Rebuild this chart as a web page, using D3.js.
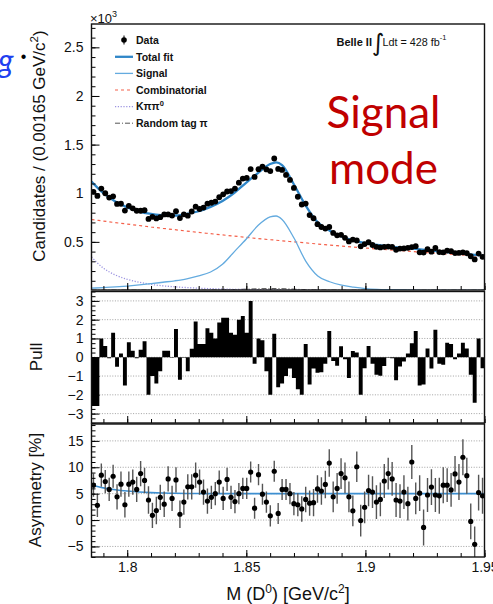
<!DOCTYPE html>
<html><head><meta charset="utf-8">
<script src="https://cdn.jsdelivr.net/npm/d3@7"></script>
<style>
html,body{margin:0;padding:0;background:#fff;overflow:hidden;}
svg{display:block;}
</style></head><body>
<script>
// ---- binning of the D0 invariant mass (GeV/c^2) ----
const binLo = 1.785, binHi = 1.95;

// candidates per bin, in units of 10^3
const candidates = [
  1.015,0.972,1.048,1.000,0.955,0.968,0.890,0.892,0.822,0.870,
  0.845,0.820,0.820,0.825,0.736,0.757,0.741,0.754,0.782,0.782,
  0.770,0.815,0.745,0.783,0.769,0.812,0.862,0.838,0.853,0.893,
  0.902,0.914,0.959,0.989,1.018,1.022,1.048,1.109,1.151,1.157,
  1.248,1.168,1.247,1.274,1.245,1.228,1.357,1.250,1.240,1.188,
  1.137,1.055,0.964,0.884,0.894,0.775,0.743,0.682,0.653,0.637,
  0.653,0.592,0.567,0.572,0.542,0.505,0.524,0.514,0.454,0.477,
  0.496,0.468,0.449,0.443,0.449,0.452,0.448,0.419,0.431,0.433,
  0.439,0.446,0.456,0.392,0.390,0.425,0.399,0.437,0.395,0.391,
  0.410,0.404,0.384,0.386,0.393,0.383,0.352,0.319,0.380,0.346];

// fit pulls per bin
const pulls = [
  -2.6,-2.6,1.0,0.6,-0.05,1.3,-0.5,0.2,-1.5,0.8,
  0.35,-0.05,0.4,0.85,-2.0,-1.0,-1.4,-0.75,0.35,0.35,
  -0.02,1.5,-1.2,-0.02,-0.75,0.45,1.9,0.7,0.7,1.55,
  1.3,1.0,1.85,2.1,2.1,1.3,1.2,2.0,2.2,1.3,
  3.0,-0.35,1.0,0.9,-0.75,-2.0,1.25,-1.6,-1.4,-1.0,
  -0.6,-1.1,-1.7,-2.0,0.7,-1.45,-0.6,-0.83,-0.8,-0.35,
  1.4,-0.2,-0.45,0.58,-0.1,-1.1,0.33,0.25,-2.0,-0.58,
  0.6,-0.35,-0.93,-0.98,-0.46,-0.03,-0.05,-1.23,-0.49,-0.23,
  0.2,0.74,1.4,-1.5,-1.45,0.47,-0.6,1.47,-0.35,-0.4,
  0.77,0.7,-0.1,0.2,0.77,0.47,-0.93,-2.42,1.0,-0.58];

// raw asymmetry per bin [%] and its uncertainty
const asymmetry = [
  6.6,2.8,8.5,7.3,5.8,8.3,4.4,6.8,2.9,6.8,
  7.2,5.8,8.8,7.5,3.8,0.9,1.8,4.3,3.0,7.8,
  4.1,7.6,1.1,3.4,6.3,6.3,8.5,7.2,5.3,3.6,
  4.3,5.0,7.2,4.1,7.7,4.3,3.5,5.0,6.0,6.0,
  9.1,2.25,8.6,4.9,3.4,0.8,9.25,1.25,5.8,5.8,
  5.0,3.1,2.9,2.1,3.9,3.2,3.3,5.9,5.5,6.75,
  10.8,4.4,6.0,8.8,8.0,4.4,1.75,10.1,-0.1,2.4,
  5.6,5.3,3.4,3.9,7.4,8.8,7.8,3.8,3.6,5.3,
  3.1,11.0,4.1,5.1,-1.4,4.75,6.25,4.75,4.6,6.6,
  6.6,5.7,8.75,7.2,11.9,8.4,-0.25,-4.6,5.2,4.6];
const asymmetryErr = [
  2.2,2.2,2.2,2.2,2.2,2.2,2.4,2.4,2.4,2.4,
  2.4,2.4,2.4,2.4,2.6,2.4,2.6,2.4,2.4,2.4,
  2.4,2.4,2.6,2.4,2.4,2.4,2.4,2.4,2.4,2.4,
  2.2,2.2,2.2,2.2,2.2,2.2,2.2,2.0,2.0,2.0,
  2.0,2.0,2.0,2.0,2.0,2.0,2.0,2.0,2.0,2.0,
  2.0,2.2,2.2,2.4,2.4,2.4,2.6,2.6,2.6,2.6,
  2.6,2.9,2.9,2.9,2.9,2.9,2.9,2.9,3.0,3.0,
  3.0,3.0,3.2,3.2,3.2,3.0,3.2,3.2,3.2,3.2,
  3.2,3.2,3.0,3.4,3.4,3.2,3.4,3.2,3.4,3.4,
  3.2,3.2,3.4,3.4,3.4,3.4,3.4,3.4,3.4,3.4];

// fit components sampled along the mass axis (units of 10^3)
const curveMass = [1.785,1.790,1.795,1.800,1.805,1.810,1.815,1.820,1.825,1.830,
  1.835,1.840,1.845,1.850,1.855,1.860,1.8625,1.865,1.870,1.875,1.880,1.885,
  1.890,1.895,1.900,1.905,1.910,1.915,1.920,1.925,1.930,1.935,1.940,1.945,1.950];
const totalFit = [1.12,1.00,0.915,0.855,0.812,0.787,0.772,0.771,0.788,0.815,
  0.86,0.92,1.005,1.11,1.21,1.30,1.318,1.29,1.09,0.87,0.70,0.615,
  0.555,0.515,0.488,0.468,0.452,0.44,0.43,0.418,0.405,0.393,0.38,0.368,0.355];
const signalPdf = [0.024,0.03,0.037,0.046,0.057,0.07,0.085,0.10,0.12,0.15,
  0.19,0.27,0.40,0.53,0.67,0.757,0.766,0.73,0.54,0.30,0.15,0.09,
  0.055,0.035,0.02,0.012,0.008,0.005,0.003,0.002,0.0015,0.001,0.001,0.001,0.001];
const combinatorial = [0.73,0.714,0.698,0.683,0.668,0.653,0.639,0.625,0.611,0.597,
  0.584,0.571,0.559,0.546,0.534,0.522,0.517,0.511,0.500,0.489,0.478,0.467,
  0.457,0.447,0.437,0.427,0.418,0.409,0.400,0.391,0.382,0.374,0.366,0.358,0.350];
const kpipi0 = [0.345,0.23,0.16,0.115,0.085,0.063,0.048,0.038,0.03,0.024,
  0.019,0.015,0.012,0.01,0.008,0.006,0.0055,0.005,0.004,0.003,0.0025,0.002,
  0.0015,0.001,0.001,0.001,0.001,0.001,0.001,0.001,0.001,0.001,0.001,0.001,0.001];
const randomTag = [0.004,0.004,0.004,0.004,0.004,0.004,0.004,0.004,0.004,0.004,
  0.005,0.007,0.010,0.014,0.018,0.020,0.020,0.019,0.014,0.009,0.006,0.005,
  0.004,0.004,0.004,0.004,0.004,0.004,0.004,0.004,0.004,0.004,0.004,0.004,0.004];
const asymFit = [6.6,6.1,5.75,5.5,5.32,5.2,5.12,5.07,5.04,5.02,
  5.01,5.0,5.0,5.0,5.0,5.0,5.0,5.0,5.0,5.0,5.0,5.0,
  5.0,5.0,5.0,5.0,5.0,5.0,5.0,5.0,5.0,5.0,5.0,5.0,5.0];

// axis ticks
const massTicks = [1.8, 1.85, 1.9, 1.95];
const candTicks = [0.5, 1, 1.5, 2, 2.5];
const pullTicks = [-3, -2, -1, 0, 1, 2, 3];
const asymTicks = [-5, 0, 5, 10, 15];
const legendLabels = ["Data", "Total fit", "Signal", "Combinatorial", "K\u03c0\u03c0", "Random tag \u03c0"];

// ---- layout ----
const W = 493, H = 604;
const L = 91.5, R = 484.5;
const P = {
  top:  {y0: 24,    y1: 290},
  pull: {y0: 291.5, y1: 423},
  asym: {y0: 424,   y1: 557}
};
const FONT = "'Liberation Sans', Arial, Helvetica, sans-serif";

const svg = d3.select("body").append("svg").attr("width", W).attr("height", H)
  .style("font-family", FONT);

const x = d3.scaleLinear().domain([binLo, binHi]).range([L, R]);
const yTop = d3.scaleLinear().domain([0, 2.74]).range([290.5, 24]);
const yPull = d3.scaleLinear().domain([-3.5, 3.5]).range([P.pull.y1, P.pull.y0]);
const yAsym = d3.scaleLinear().domain([-7, 18.2]).range([P.asym.y1, P.asym.y0]);

const nBins = candidates.length;
const bw = (binHi - binLo) / nBins;
const binCenter = i => binLo + bw * (i + 0.5);

const defs = svg.append("defs");
for (const k of Object.keys(P)) {
  defs.append("clipPath").attr("id", "clip-" + k).append("rect")
    .attr("x", L).attr("y", P[k].y0).attr("width", R - L).attr("height", P[k].y1 - P[k].y0);
}

const minorRange = (a, b, s) => d3.range(Math.round(a / s), Math.round(b / s) + 1).map(k => +(k * s).toFixed(4));

function xTicks(g, y, major, minor) {
  const gx = g.append("g").attr("transform", `translate(0,${y})`);
  gx.call(d3.axisBottom(x).tickValues(minorRange(1.79, 1.95, 0.01)).tickSize(-minor).tickFormat(""));
  gx.select(".domain").remove();
  const gx2 = g.append("g").attr("transform", `translate(0,${y})`);
  gx2.call(d3.axisBottom(x).tickValues(massTicks).tickSize(-major).tickFormat(""));
  gx2.select(".domain").remove();
  g.selectAll(".tick line").attr("stroke", "#000").attr("stroke-width", 1);
}

function yAxis(g, scale, ticks, minorStep, lo, hi, fmt) {
  const gm = g.append("g").attr("transform", `translate(${L},0)`)
    .call(d3.axisLeft(scale).tickValues(minorRange(lo, hi, minorStep)).tickSize(-4).tickFormat(""));
  gm.select(".domain").remove();
  const ga = g.append("g").attr("transform", `translate(${L},0)`)
    .call(d3.axisLeft(scale).tickValues(ticks).tickSize(-8).tickPadding(8).tickFormat(fmt));
  ga.select(".domain").remove();
  ga.selectAll("text").attr("font-size", 14).attr("fill", "#111").style("font-family", FONT);
  g.selectAll(".tick line").attr("stroke", "#000").attr("stroke-width", 1);
}

const fmt = d3.format("");

// ================= top panel: mass fit =================
const gTop = svg.append("g");
const gTopC = gTop.append("g").attr("clip-path", "url(#clip-top)");
const series = arr => curveMass.map((m, i) => ({m, v: arr[i]}));
const line = d3.line().x(d => x(d.m)).y(d => yTop(d.v)).curve(d3.curveMonotoneX);

gTopC.append("path").attr("d", line(series(randomTag))).attr("fill", "none")
  .attr("stroke", "#555").attr("stroke-width", 1).attr("stroke-dasharray", "5,2,1,2");
gTopC.append("path").attr("d", line(series(kpipi0))).attr("fill", "none")
  .attr("stroke", "#9b93e0").attr("stroke-width", 1.3).attr("stroke-dasharray", "1.2,1.6");
gTopC.append("path").attr("d", line(series(combinatorial))).attr("fill", "none")
  .attr("stroke", "#f4604a").attr("stroke-width", 1.2).attr("stroke-dasharray", "3,3");
gTopC.append("path").attr("d", line(series(signalPdf))).attr("fill", "none")
  .attr("stroke", "#64abdf").attr("stroke-width", 1.3);
gTopC.append("path").attr("d", line(series(totalFit))).attr("fill", "none")
  .attr("stroke", "#2f86c8").attr("stroke-width", 2.3);

gTopC.append("g").selectAll("circle").data(candidates).join("circle")
  .attr("cx", (d, i) => x(binCenter(i))).attr("cy", d => yTop(d)).attr("r", 2.9).attr("fill", "#000");

xTicks(gTop, P.top.y1, 7, 4);
yAxis(gTop, yTop, candTicks, 0.1, 0.1, 2.7, fmt);

// multiplier
svg.append("text").attr("x", 90).attr("y", 22.5).attr("font-size", 13).attr("fill", "#111")
  .text("\u00d710").append("tspan").attr("font-size", 9).attr("dy", -6).text("3");

// legend
const lg = svg.append("g").attr("font-size", 10.5).attr("font-weight", "bold").attr("fill", "#111");
const legY = [40, 56.8, 73.4, 90, 106.6, 123.2];
const lx0 = 115, lx1 = 133, ltx = 136;
lg.append("line").attr("x1", 124).attr("x2", 124).attr("y1", legY[0] - 4.5).attr("y2", legY[0] + 4.5)
  .attr("stroke", "#000").attr("stroke-width", 1);
lg.append("circle").attr("cx", 124).attr("cy", legY[0]).attr("r", 2.8).attr("fill", "#000");
const legStyles = [null,
  {c: "#2f86c8", w: 2.3, d: null},
  {c: "#64abdf", w: 1.3, d: null},
  {c: "#f4604a", w: 1.2, d: "3,3"},
  {c: "#9b93e0", w: 1.3, d: "1.2,1.6"},
  {c: "#555", w: 1, d: "5,2,1,2"}];
legendLabels.forEach((lab, i) => {
  const s = legStyles[i];
  if (s) {
    lg.append("line").attr("x1", lx0).attr("x2", lx1).attr("y1", legY[i]).attr("y2", legY[i])
      .attr("stroke", s.c).attr("stroke-width", s.w).attr("stroke-dasharray", s.d);
  }
  const t = lg.append("text").attr("x", ltx).attr("y", legY[i] + 3.7).text(lab);
  if (i === 4) t.append("tspan").attr("font-size", 7.5).attr("dy", -4).text("0");
});

// experiment label
const bl = svg.append("g").attr("fill", "#111");
bl.append("text").attr("x", 336.5).attr("y", 46).attr("font-size", 11).attr("font-weight", "bold").text("Belle II");
bl.append("text").attr("x", 372).attr("y", 51).attr("font-size", 24).attr("font-family", "'DejaVu Sans', sans-serif").text("\u222b");
const lum = bl.append("text").attr("x", 382.5).attr("y", 46).attr("font-size", 10.8).text("Ldt = 428 fb");
lum.append("tspan").attr("font-size", 7.5).attr("dy", -6).text("-1");

// slide annotation
const ann = svg.append("g").attr("font-family", "Lato, 'Open Sans', sans-serif").attr("fill", "#c00000")
  .attr("font-size", 44).attr("text-anchor", "middle");
ann.append("text").attr("x", 383.5).attr("y", 128).text("Signal");
ann.append("text").attr("x", 383.5).attr("y", 184).text("mode");

svg.append("text").attr("x", -2).attr("y", 72).attr("font-family", "Lato, 'Open Sans', sans-serif")
  .attr("font-style", "italic").attr("font-size", 32).attr("fill", "#2040f0").text("g");
svg.append("text").attr("x", 23.5).attr("y", 62).attr("text-anchor", "middle")
  .attr("font-size", 16).attr("fill", "#000").text("\u2022");

// ================= pull panel =================
const gPull = svg.append("g");
const gPullC = gPull.append("g").attr("clip-path", "url(#clip-pull)");
gPullC.append("g").selectAll("line").data(pullTicks).join("line")
  .attr("x1", L).attr("x2", R).attr("y1", d => yPull(d)).attr("y2", d => yPull(d))
  .attr("stroke", "#8a8a8a").attr("stroke-width", 0.8).attr("stroke-dasharray", "1,1.6");
// pull histogram as one stepped area, so neighbouring bins join without seams
const pullSteps = pulls.map((p, i) => ({m: binLo + bw * i, v: p}))
  .concat([{m: binHi, v: pulls[pulls.length - 1]}]);
gPullC.append("path")
  .attr("d", d3.area().curve(d3.curveStepAfter).x(d => x(d.m)).y0(yPull(0)).y1(d => yPull(d.v))(pullSteps))
  .attr("fill", "#000");
xTicks(gPull, P.pull.y1, 7, 4);
yAxis(gPull, yPull, pullTicks, 0.25, -3.5, 3.5, fmt);

// ================= asymmetry panel =================
const gA = svg.append("g");
const gAC = gA.append("g").attr("clip-path", "url(#clip-asym)");
gAC.append("g").selectAll("line").data(asymTicks).join("line")
  .attr("x1", L).attr("x2", R).attr("y1", d => yAsym(d)).attr("y2", d => yAsym(d))
  .attr("stroke", "#8a8a8a").attr("stroke-width", 0.8).attr("stroke-dasharray", "1,1.6");
const aLine = d3.line().x(d => x(d.m)).y(d => yAsym(d.v)).curve(d3.curveMonotoneX);
gAC.append("path").attr("d", aLine(series(asymFit))).attr("fill", "none")
  .attr("stroke", "#3d8fd1").attr("stroke-width", 1.6);
gAC.append("g").selectAll("line").data(asymmetry).join("line")
  .attr("x1", (d, i) => x(binCenter(i))).attr("x2", (d, i) => x(binCenter(i)))
  .attr("y1", (d, i) => yAsym(d - asymmetryErr[i])).attr("y2", (d, i) => yAsym(d + asymmetryErr[i]))
  .attr("stroke", "#555").attr("stroke-width", 1.4);
gAC.append("g").selectAll("circle").data(asymmetry).join("circle")
  .attr("cx", (d, i) => x(binCenter(i))).attr("cy", d => yAsym(d)).attr("r", 2.6).attr("fill", "#000");
xTicks(gA, P.asym.y1, 7, 4);
yAxis(gA, yAsym, asymTicks, 1, -7, 18, fmt);

// x tick labels under the lowest panel
const gxl = svg.append("g").attr("transform", `translate(0,${P.asym.y1})`)
  .call(d3.axisBottom(x).tickValues(massTicks).tickSize(0).tickPadding(5).tickFormat(fmt));
gxl.select(".domain").remove();
gxl.selectAll("text").attr("font-size", 14).attr("fill", "#111").style("font-family", FONT);

// panel frames
for (const k of Object.keys(P)) {
  svg.append("rect").attr("x", L).attr("y", P[k].y0).attr("width", R - L).attr("height", P[k].y1 - P[k].y0)
    .attr("fill", "none").attr("stroke", "#111").attr("stroke-width", 1.4);
}

// axis titles
const yt = svg.append("text").attr("transform", "translate(45,146) rotate(-90)")
  .attr("text-anchor", "middle").attr("font-size", 17).attr("fill", "#111")
  .text("Candidates / (0.00165 GeV/c");
yt.append("tspan").attr("font-size", 11.5).attr("dy", -7).text("2");
yt.append("tspan").attr("dy", 7).text(")");

svg.append("text").attr("transform", "translate(42,357) rotate(-90)")
  .attr("text-anchor", "middle").attr("font-size", 17).attr("fill", "#111").text("Pull");
svg.append("text").attr("transform", "translate(41,490) rotate(-90)")
  .attr("text-anchor", "middle").attr("font-size", 17).attr("fill", "#111").text("Asymmetry [%]");

const xt = svg.append("text").attr("x", 288).attr("y", 600).attr("text-anchor", "middle")
  .attr("font-size", 18).attr("fill", "#111").text("M (D");
xt.append("tspan").attr("font-size", 12).attr("dy", -7).text("0");
xt.append("tspan").attr("dy", 7).text(") [GeV/c");
xt.append("tspan").attr("font-size", 12).attr("dy", -7).text("2");
xt.append("tspan").attr("dy", 7).text("]");
</script>
</body></html>
